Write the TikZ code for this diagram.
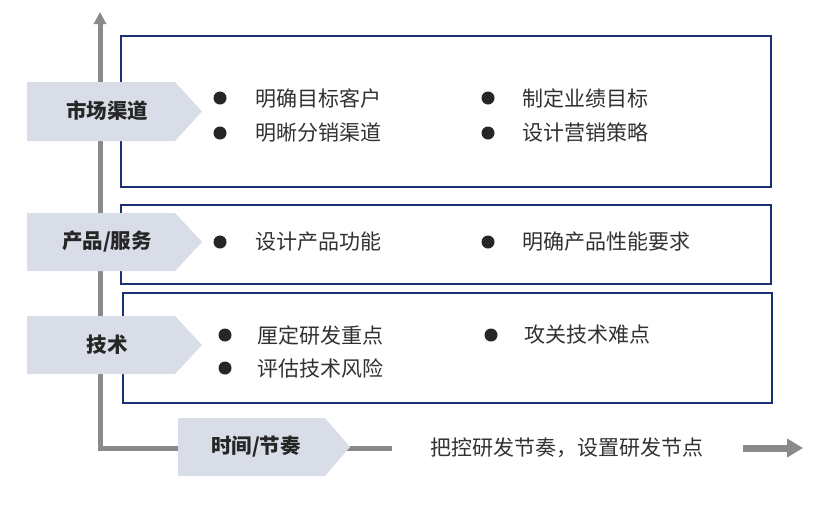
\documentclass[tikz,border=0pt]{standalone}
\usepackage{fontspec}
\setmainfont{Noto Sans CJK SC}
\usetikzlibrary{arrows.meta}
\definecolor{axisgray}{RGB}{138,138,138}
\definecolor{navy}{RGB}{28,48,120}
\definecolor{tagfill}{RGB}{216,221,231}
\definecolor{txt}{RGB}{50,50,50}
\definecolor{dotc}{RGB}{38,38,38}
\tikzset{
  axisline/.style={draw=axisgray, line width=5pt},
  panel/.style={draw=navy, line width=1.8pt, fill=white},
  tagshape/.style={fill=tagfill},
  tagtext/.style={text=black!85, font=\fontsize{20.5}{24}\selectfont\bfseries, inner sep=0pt},
  item/.style={text=txt, font=\fontsize{21}{24}\selectfont, anchor=west, inner sep=0pt},
  dot/.style={circle, fill=dotc, minimum size=13pt, inner sep=0pt},
}
\begin{document}
\begin{tikzpicture}[x=1pt,y=-1pt]
\useasboundingbox (0,0) rectangle (824,504);
% axes
\coordinate (origin) at (100,448);
\coordinate (ytop) at (100,12);
\coordinate (xend) at (392,448);
\draw[axisline, -{Triangle[length=12pt,width=12pt]}] (origin |- 0,450.5) -- (ytop);
\draw[axisline] (97.5,448) -- (xend);
% panels
\node[panel, minimum width=650pt, minimum height=151pt, inner sep=0pt] (p1) at (446,111.5) {};
\node[panel, minimum width=650pt, minimum height=79pt, inner sep=0pt] (p2) at (446,244.5) {};
\node[panel, minimum width=649pt, minimum height=110pt, inner sep=0pt] (p3) at (447.5,348) {};
% tags
\fill[tagshape] (27,82) -- (175,82) -- (202,111.5) -- (175,141) -- (27,141) -- cycle;
\fill[tagshape] (27,213) -- (175,213) -- (202,242) -- (175,271) -- (27,271) -- cycle;
\fill[tagshape] (27,316) -- (175,316) -- (202,345) -- (175,374) -- (27,374) -- cycle;
\fill[tagshape] (178,418) -- (325,418) -- (350,447) -- (325,476) -- (178,476) -- cycle;
\node[tagtext] (t1) at (107,111) {市场渠道};
\node[tagtext] (t2) at (107,242) {产品/服务};
\node[tagtext] (t3) at (107,345) {技术};
\node[tagtext] (t4) at (256,447) {时间/节奏};
% panel 1 items
\node[dot] (d11) at (220,98) {};
\node[item] (i11) at (255,98) {明确目标客户};
\node[dot] (d12) at (220,133) {};
\node[item] (i12) at (255,133) {明晰分销渠道};
\node[dot] (d13) at (488,98) {};
\node[item] (i13) at (522,98) {制定业绩目标};
\node[dot] (d14) at (488,133) {};
\node[item] (i14) at (522,133) {设计营销策略};
% panel 2 items
\node[dot] (d21) at (220,242) {};
\node[item] (i21) at (255,242) {设计产品功能};
\node[dot] (d22) at (488,242) {};
\node[item] (i22) at (522,242) {明确产品性能要求};
% panel 3 items
\node[dot] (d31) at (225,335) {};
\node[item] (i31) at (257,335) {厘定研发重点};
\node[dot] (d32) at (225,368) {};
\node[item] (i32) at (257,368) {评估技术风险};
\node[dot] (d33) at (491,335) {};
\node[item] (i33) at (524,335) {攻关技术难点};
% timeline
\node[item] (tl) at (430,448) {把控研发节奏，设置研发节点};
\coordinate (ra) at (743,448);
\coordinate (rb) at (803,448);
\draw[draw=axisgray, line width=7pt, -{Triangle[length=16pt,width=18pt]}] (ra) -- (rb);
\end{tikzpicture}
\end{document}
